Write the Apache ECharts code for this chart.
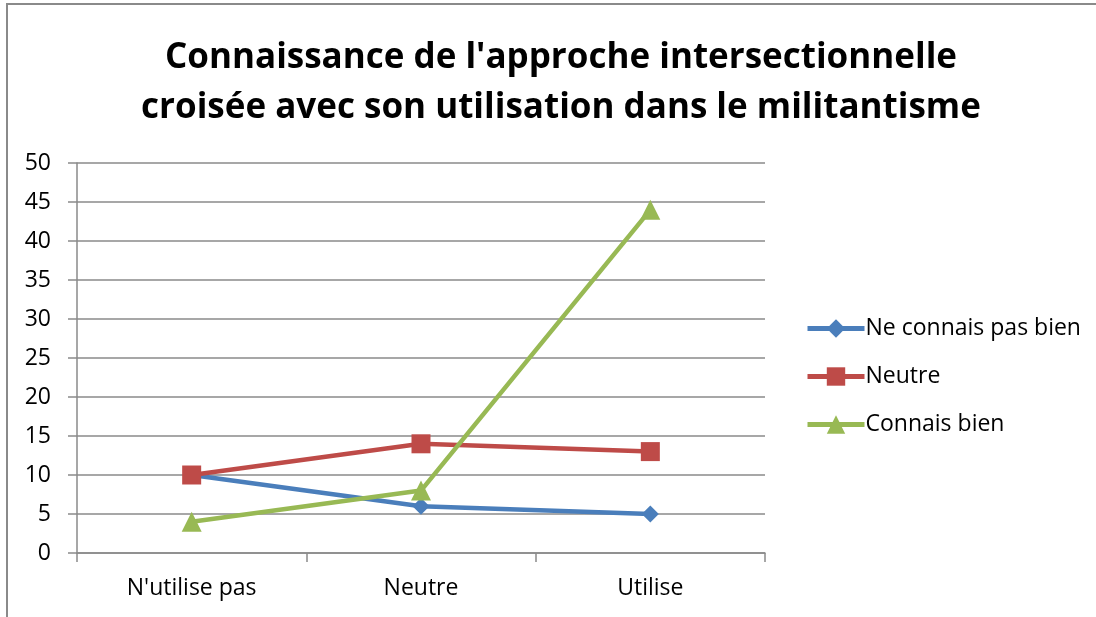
<!DOCTYPE html>
<html><head><meta charset="utf-8">
<script src="https://cdn.jsdelivr.net/npm/echarts@6/dist/echarts.min.js"></script>
<style>html,body{margin:0;padding:0;background:#fff}#c{width:1096px;height:617px}</style>
</head><body><div id="c"></div>
<script>
const categories = ["N'utilise pas", "Neutre", "Utilise"];
const neConnaisPas = [10, 6, 5];
const neutre = [10, 14, 13];
const connaisBien = [4, 8, 44];
const seriesNames = ["Ne connais pas bien", "Neutre", "Connais bien"];
const titleText = "Connaissance de l'approche intersectionnelle\ncroisée avec son utilisation dans le militantisme";

const chart = echarts.init(document.getElementById('c'));
const font = "'Open Sans', 'Noto Sans', sans-serif";
function s(name, data, color, symbol, size) {
  return { name, type: 'line', data, symbol, symbolSize: size, color,
    lineStyle: { width: 4.5, color }, itemStyle: { color }, z: 3 };
}
chart.setOption({
  animation: false,
  textStyle: { fontFamily: font },
  graphic: [{ type: 'rect', shape: { x: 7, y: 4, width: 1200, height: 800 },
    style: { fill: 'none', stroke: '#8a8a8a', lineWidth: 2 }, silent: true }],
  title: { text: titleText, left: 556, textAlign: 'center', top: 28,
    textStyle: { fontFamily: font, fontWeight: 'bold', fontSize: 35, lineHeight: 50, color: '#000' } },
  grid: { left: 77, right: 331, top: 163, bottom: 64 },
  legend: { orient: 'vertical', left: 800, top: 312, itemWidth: 57, itemHeight: 23, itemGap: 25,
    lineStyle: { width: 5 },
    textStyle: { fontSize: 23, color: '#000', fontFamily: font, padding: [0, 0, 0, -4] },
    data: seriesNames },
  xAxis: { type: 'category', data: categories, boundaryGap: true,
    axisLine: { lineStyle: { color: '#8a8a8a', width: 1.5 } },
    axisTick: { show: true, length: 9, lineStyle: { color: '#8a8a8a', width: 1.5 } },
    axisLabel: { fontSize: 23, color: '#000', margin: 24, fontFamily: font } },
  yAxis: { type: 'value', min: 0, max: 50, interval: 5,
    axisLine: { show: true, lineStyle: { color: '#8a8a8a', width: 1.5 } },
    axisTick: { show: true, length: 9, lineStyle: { color: '#8a8a8a', width: 1.5 } },
    splitLine: { lineStyle: { color: '#8a8a8a', width: 1.5 } },
    axisLabel: { fontSize: 23, color: '#000', margin: 26, fontFamily: font } },
  series: [
    s(seriesNames[0], neConnaisPas, '#4a7ebb', 'diamond', 17),
    s(seriesNames[1], neutre, '#be4b48', 'rect', 19),
    s(seriesNames[2], connaisBien, '#98b954', 'triangle', 20)
  ]
});
</script></body></html>
